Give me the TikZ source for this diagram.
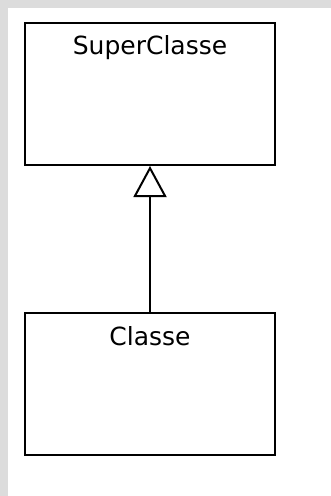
\documentclass[tikz,border=0pt]{standalone}
\usepackage{fontspec}
\setmainfont{DejaVu Sans}
\usetikzlibrary{arrows.meta}
\definecolor{framegray}{RGB}{220,220,220}

\begin{document}
\begin{tikzpicture}[x=1pt, y=-1pt,
        classbox/.style={draw, line width=2pt, minimum width=250pt, minimum height=142pt, inner sep=0pt},
        classname/.style={anchor=base, inner sep=0pt, font=\fontsize{25}{30}\selectfont},
        inherits/.style={line width=2pt, -{Triangle[open, length=31pt, width=33pt]}}]
        \useasboundingbox (0,0) rectangle (331,496);
        \fill[framegray] (0,0) rectangle (331,496);
        \fill[white] (8,8) rectangle (331,496);

        \node[classbox] (super) at (150, 94) {};
        \node[classbox] (classe) at (150, 384) {};

        \node[classname] (supername) at ([yshift=-32pt]super.north) {SuperClasse};
        \node[classname] (classename) at ([yshift=-33pt]classe.north) {Classe};

        \draw[inherits] (classe) -- (super);
    \end{tikzpicture}
\end{document}
